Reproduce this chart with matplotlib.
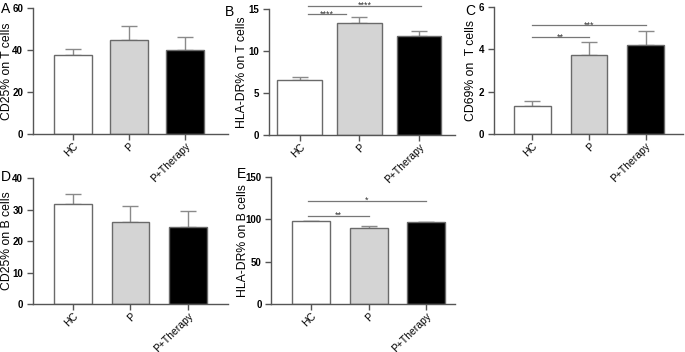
import matplotlib
matplotlib.use('Agg')
import matplotlib.pyplot as plt

plt.rcParams['font.family'] = ['Liberation Sans', 'DejaVu Sans']

groups = ['HC', 'P', 'P+Therapy']
bar_colors = ['white', '#d4d4d4', 'black']

# mean values and upper error (SEM) per panel
cd25_t = [37.5, 45.0, 40.0]
cd25_t_err = [2.8, 6.3, 6.0]
hladr_t = [6.6, 13.3, 11.8]
hladr_t_err = [0.3, 0.8, 0.6]
cd69_t = [1.35, 3.72, 4.2]
cd69_t_err = [0.22, 0.63, 0.67]
cd25_b = [31.7, 26.0, 24.5]
cd25_b_err = [3.3, 5.0, 5.2]
hladr_b = [98.0, 89.5, 96.5]
hladr_b_err = [0.5, 3.0, 0.5]

# significance brackets: (x_start, x_end, y, label)
sig_b = [(0.14, 0.78, 14.4, '****'), (0.14, 2.04, 15.4, '****')]
sig_c = [(0.0, 1.0, 4.58, '**'), (0.0, 2.0, 5.14, '***')]
sig_e = [(-0.06, 1.0, 104, '**'), (-0.06, 2.0, 122, '*')]

W, H = 685, 352
fig = plt.figure(figsize=(6.85, 3.52), dpi=100)

panels = [
    # letter, letter pos (px), rect, values, err, ylabel, ylabel x (px), yticks, xlim, width, sig
    ('A', (6, 9), [0.048, 0.619, 0.285, 0.358], cd25_t, cd25_t_err, 'CD25% on T cells', 12.5,
     [0, 20, 40, 60], (-0.71, 2.77), 0.68, []),
    ('B', (230, 12), [0.393, 0.616, 0.271, 0.358], hladr_t, hladr_t_err, 'HLA-DR% on T cells', 248,
     [0, 5, 10, 15], (-0.51, 2.6), 0.75, sig_b),
    ('C', (470, 11), [0.721, 0.619, 0.276, 0.361], cd69_t, cd69_t_err, 'CD69% on  T cells', 476.5,
     [0, 2, 4, 6], (-0.68, 2.66), 0.65, sig_c),
    ('D', (6, 177), [0.048, 0.136, 0.285, 0.358], cd25_b, cd25_b_err, 'CD25% on B cells', 12.5,
     [0, 10, 20, 30, 40], (-0.70, 2.7), 0.66, []),
    ('E', (241, 174), [0.396, 0.136, 0.268, 0.361], hladr_b, hladr_b_err, 'HLA-DR% on B cells', 248.5,
     [0, 50, 100, 150], (-0.70, 2.5), 0.66, sig_e),
]

for letter, lpos, rect, vals, err, ylab, ylx, yt, xl, w, sig in panels:
    ax = fig.add_axes(rect)
    ax.patch.set_visible(False)
    x = range(len(groups))
    ax.bar(x, vals, width=w, color=bar_colors, edgecolor='#6a6a6a', linewidth=1.0, zorder=2)
    ax.errorbar(x, vals, yerr=[[0] * len(err), err], fmt='none', ecolor='#8a8a8a',
                elinewidth=1.0, capsize=6, capthick=1.0, zorder=1)
    for x0, x1, y, lab in sig:
        ax.plot([x0, x1], [y, y], color='#777777', lw=0.9, clip_on=False)
        ax.annotate(lab, ((x0 + x1) / 2, y), xytext=(0, -3), textcoords='offset points',
                    ha='center', va='bottom', fontsize=6.5, color='#333333', annotation_clip=False)
    ax.set_xlim(*xl)
    ax.set_ylim(0, yt[-1])
    ax.set_yticks(yt)
    ax.set_yticklabels([str(v) for v in yt], fontweight='bold', fontsize=7)
    ax.set_xticks(list(x))
    ax.set_xticklabels(groups, rotation=45, ha='right', rotation_mode='anchor', fontsize=7.5)
    ax.set_ylabel(ylab, fontsize=8.8)
    ax_left_px = rect[0] * W
    ax_w_px = rect[2] * W
    ax.yaxis.set_label_coords((ylx - ax_left_px) / ax_w_px, 0.5)
    for s in ['top', 'right']:
        ax.spines[s].set_visible(False)
    for s in ['left', 'bottom']:
        ax.spines[s].set_color('#555555')
        ax.spines[s].set_linewidth(1.0)
    ax.tick_params(colors='#555555', labelcolor='black', length=4, width=1.0, pad=3)
    ax.tick_params(axis='x', pad=1)
    fig.text(lpos[0] / W, 1 - lpos[1] / H, letter, ha='center', va='center', fontsize=10)

fig.savefig('out.png', dpi=100)
